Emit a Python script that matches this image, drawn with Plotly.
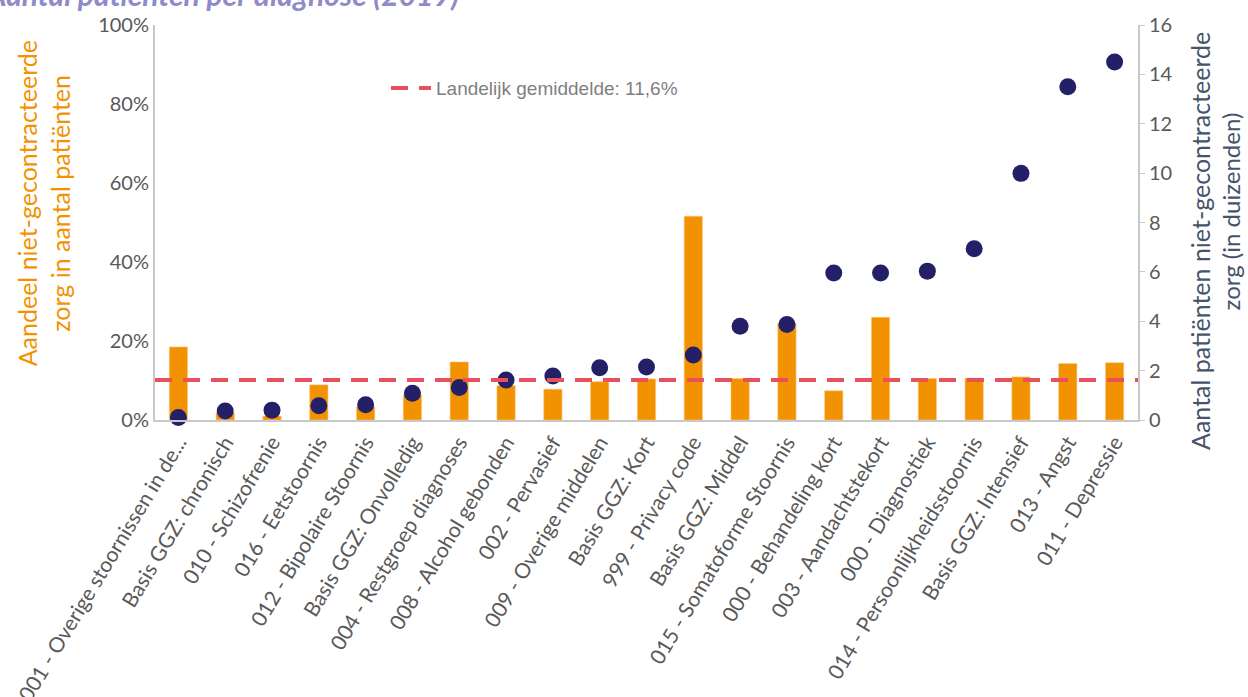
import plotly.graph_objects as go

categories = [
    "001 - Overige stoornissen in de...", "Basis GGZ: chronisch", "010 - Schizofrenie",
    "016 - Eetstoornis", "012 - Bipolaire Stoornis", "Basis GGZ: Onvolledig",
    "004 - Restgroep diagnoses", "008 - Alcohol gebonden", "002 - Pervasief",
    "009 - Overige middelen", "Basis GGZ: Kort", "999 - Privacy code",
    "Basis GGZ: Middel", "015 - Somatoforme Stoornis", "000 - Behandeling kort",
    "003 - Aandachtstekort", "000 - Diagnostiek", "014 - Persoonlijkheidsstoornis",
    "Basis GGZ: Intensief", "013 - Angst", "011 - Depressie",
]
# share of non-contracted care (%)
share_pct = [18.5, 1.8, 1.0, 8.9, 3.3, 6.3, 14.7, 8.7, 7.8, 9.7, 10.4, 51.6,
             10.5, 24.5, 7.4, 26.0, 10.5, 10.6, 10.9, 14.3, 14.5]
# number of patients non-contracted care (thousands)
patients_k = [0.1, 0.36, 0.4, 0.58, 0.62, 1.08, 1.32, 1.62, 1.78, 2.12, 2.15, 2.63,
              3.8, 3.87, 5.95, 5.95, 6.03, 6.94, 9.99, 13.5, 14.5]
avg_line = 10.1

orange = "#F39200"
navy = "#232068"
red = "#E8505B"
grey = "#595959"
slate = "#44546A"

fig = go.Figure()
fig.add_trace(go.Bar(x=categories, y=share_pct, marker=dict(color=orange, line=dict(color="#F8C880", width=0.6)),
                     width=0.39, showlegend=False))
fig.add_trace(go.Scatter(x=categories, y=patients_k, yaxis="y2", mode="markers",
                         marker=dict(color=navy, size=17), showlegend=False, cliponaxis=False))
fig.add_trace(go.Scatter(x=[0, 1], y=[avg_line, avg_line], xaxis="x2", mode="lines",
                         line=dict(color=red, width=4, dash="17px,11px"),
                         name="Landelijk gemiddelde: 11,6%"))

fig.update_layout(
    width=1248, height=697,
    margin=dict(l=155, r=110, t=25, b=277),
    plot_bgcolor="white", paper_bgcolor="white",
    font=dict(family="Lato", color=grey, size=16),
    xaxis=dict(range=[-0.5, len(categories) - 0.5], tickangle=-59, showline=True,
               linecolor="#C8C8C8", linewidth=2,
               tickfont=dict(size=21, color=grey), ticks="", automargin=False),
    xaxis2=dict(overlaying="x", range=[0, 1], visible=False),
    yaxis=dict(range=[0, 100], ticksuffix="%", dtick=20, showgrid=False,
               showline=True, linecolor="#C8C8C8", linewidth=2,
               tickfont=dict(size=20, color=grey), ticks="", automargin=False),
    yaxis2=dict(range=[0, 16], dtick=2, overlaying="y", side="right", showgrid=False,
                showline=True, linecolor="#C8C8C8", linewidth=2, ticks="outside",
                ticklen=5, tickcolor="#C8C8C8", tickfont=dict(size=20, color=grey),
                automargin=False),
    legend=dict(x=0.235, y=0.84, xanchor="left", yanchor="middle",
                font=dict(family="Liberation Sans", size=19, color="#7F7F7F"),
                bgcolor="rgba(0,0,0,0)", itemwidth=40),
)

fig.add_annotation(text="<b><i>Aantal patiënten per diagnose (2019)</i></b>",
                   xref="paper", yref="paper", x=-0.175, y=1.028, xanchor="left", yanchor="bottom",
                   showarrow=False, font=dict(family="Lato", size=30, color="#8E8BC8"))
# left axis title, two lines
fig.add_annotation(text="Aandeel niet-gecontracteerde",
                   xref="paper", yref="paper", x=-0.13, y=0.549, xanchor="center", yanchor="middle",
                   textangle=-90, showarrow=False, font=dict(size=25, color=orange))
fig.add_annotation(text="zorg in aantal patiënten",
                   xref="paper", yref="paper", x=-0.097, y=0.549, xanchor="center", yanchor="middle",
                   textangle=-90, showarrow=False, font=dict(size=25, color=orange))
# right axis title, two lines
fig.add_annotation(text="Aantal patiënten niet-gecontracteerde",
                   xref="paper", yref="paper", x=1.063, y=0.453, xanchor="center", yanchor="middle",
                   textangle=-90, showarrow=False, font=dict(size=25, color=slate))
fig.add_annotation(text="zorg (in duizenden)",
                   xref="paper", yref="paper", x=1.094, y=0.529, xanchor="center", yanchor="middle",
                   textangle=-90, showarrow=False, font=dict(size=24, color=slate))

fig.write_html("out.html", config={"displayModeBar": False},
               post_script="document.body.style.margin='0';")
